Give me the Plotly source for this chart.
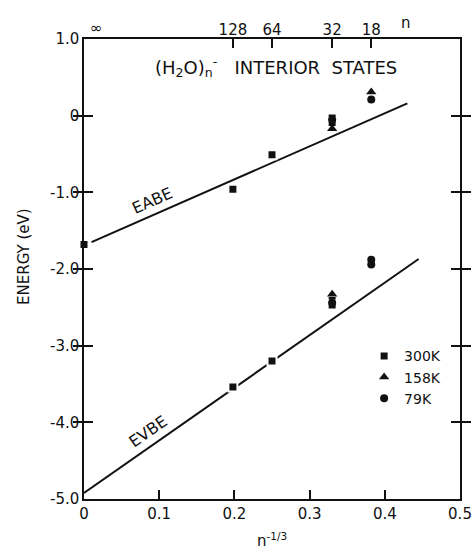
import plotly.graph_objects as go

# ---- data (x = n^-1/3, y = energy in eV) ----
eabe_300k_x = [0.0, 0.198, 0.25, 0.33, 0.33]
eabe_300k_y = [-1.68, -0.96, -0.51, -0.03, -0.09]
eabe_158k_x = [0.33, 0.382]
eabe_158k_y = [-0.17, 0.31]
eabe_79k_x = [0.33, 0.382]
eabe_79k_y = [-0.05, 0.21]

evbe_300k_x = [0.198, 0.25, 0.33, 0.33]
evbe_300k_y = [-3.54, -3.20, -2.41, -2.47]
evbe_158k_x = [0.33]
evbe_158k_y = [-2.33]
evbe_79k_x = [0.33, 0.382, 0.382]
evbe_79k_y = [-2.44, -1.88, -1.94]

eabe_fit_x = [0.01, 0.43]
eabe_fit_y = [-1.65, 0.16]
evbe_fit_x = [0.0, 0.445]
evbe_fit_y = [-4.92, -1.87]

top_tick_vals = [0.198, 0.25, 0.33, 0.382]
top_tick_text = ["128", "64", "32", "18"]
x_tick_vals = [0, 0.1, 0.2, 0.3, 0.4, 0.5]
x_tick_text = ["0", "0.1", "0.2", "0.3", "0.4", "0.5"]
y_tick_vals = [1, 0, -1, -2, -3, -4, -5]
y_tick_text = ["1.0", "0", "-1.0", "-2.0", "-3.0", "-4.0", "-5.0"]

FONT = "DejaVu Sans"
BLACK = "#111111"

fig = go.Figure()

# fit lines
fig.add_trace(go.Scatter(x=eabe_fit_x, y=eabe_fit_y, mode="lines",
                         line=dict(color=BLACK, width=2), showlegend=False))
fig.add_trace(go.Scatter(x=evbe_fit_x, y=evbe_fit_y, mode="lines",
                         line=dict(color=BLACK, width=2), showlegend=False))

mk_line = dict(color="white", width=2)
fig.add_trace(go.Scatter(x=eabe_300k_x + evbe_300k_x, y=eabe_300k_y + evbe_300k_y,
                         mode="markers", name="300K", cliponaxis=False,
                         marker=dict(symbol="square", size=9, color=BLACK, line=mk_line)))
fig.add_trace(go.Scatter(x=eabe_158k_x + evbe_158k_x, y=eabe_158k_y + evbe_158k_y,
                         mode="markers", name="158K", cliponaxis=False,
                         marker=dict(symbol="triangle-up", size=9, color=BLACK, line=dict(width=0))))
fig.add_trace(go.Scatter(x=eabe_79k_x + evbe_79k_x, y=eabe_79k_y + evbe_79k_y,
                         mode="markers", name="79K", cliponaxis=False,
                         marker=dict(symbol="circle", size=8, color=BLACK, line=dict(width=0))))

# invisible trace to activate top axis
fig.add_trace(go.Scatter(x=[0, 0.5], y=[None, None], xaxis="x2", showlegend=False,
                         hoverinfo="skip"))

axis_common = dict(showline=True, linecolor=BLACK, linewidth=1.5, showgrid=False,
                   zeroline=False, ticks="inside", ticklen=9, tickwidth=1.5,
                   tickcolor=BLACK, automargin=False,
                   tickfont=dict(family=FONT, size=15, color=BLACK))

fig.update_layout(
    width=473, height=550,
    margin=dict(l=84, r=13, t=39, b=51, autoexpand=False),
    paper_bgcolor="white", plot_bgcolor="white",
    font=dict(family=FONT, color=BLACK),
    xaxis=dict(range=[0, 0.5], tickvals=x_tick_vals, ticktext=x_tick_text,
               mirror=True, **axis_common),
    xaxis2=dict(range=[0, 0.5], overlaying="x", side="top", tickvals=top_tick_vals,
                ticktext=top_tick_text, showline=False, showgrid=False, zeroline=False,
                ticks="inside", ticklen=9, tickwidth=1.5, tickcolor=BLACK,
                automargin=False,
                tickfont=dict(family=FONT, size=15, color=BLACK)),
    yaxis=dict(range=[-5, 1], tickvals=y_tick_vals, ticktext=y_tick_text,
               mirror="allticks", **axis_common),
    legend=dict(x=0.745, y=0.345, xanchor="left", yanchor="top",
                bgcolor="rgba(0,0,0,0)", font=dict(family=FONT, size=14, color=BLACK),
                itemwidth=30, tracegroupgap=0),
    showlegend=True,
)

fig.add_annotation(x=0.255, y=0.63, xref="x", yref="y", showarrow=False,
                   text="(H<sub>2</sub>O)<sub>n</sub><sup>-</sup>   INTERIOR  STATES",
                   font=dict(family=FONT, size=18, color=BLACK))
fig.add_annotation(x=0.091, y=-1.10, xref="x", yref="y", showarrow=False,
                   text="EABE", textangle=-24,
                   font=dict(family=FONT, size=16, color=BLACK))
fig.add_annotation(x=0.085, y=-4.12, xref="x", yref="y", showarrow=False,
                   text="EVBE", textangle=-35,
                   font=dict(family=FONT, size=16, color=BLACK))
fig.add_annotation(x=0.016, y=1.024, xref="x", yref="paper", showarrow=False,
                   xanchor="center", yanchor="middle",
                   text="∞", font=dict(family=FONT, size=15, color=BLACK))
fig.add_annotation(x=0.428, y=1.035, xref="x", yref="paper", showarrow=False,
                   xanchor="center", yanchor="middle",
                   text="n", font=dict(family=FONT, size=15, color=BLACK))
fig.add_annotation(x=-0.16, y=0.528, xref="paper", yref="paper", showarrow=False,
                   xanchor="center", yanchor="middle",
                   text="ENERGY (eV)", textangle=-90,
                   font=dict(family=FONT, size=15, color=BLACK))
fig.add_annotation(x=0.5, y=-0.064, xref="paper", yref="paper", showarrow=False,
                   xanchor="center", yanchor="top", text="n<sup>-1/3</sup>",
                   font=dict(family=FONT, size=15, color=BLACK))

# remove the browser's default 8px body margin so the figure fills the window exactly
fig.write_html("out.html", config={"displayModeBar": False},
               post_script="document.body.style.margin='0';")
